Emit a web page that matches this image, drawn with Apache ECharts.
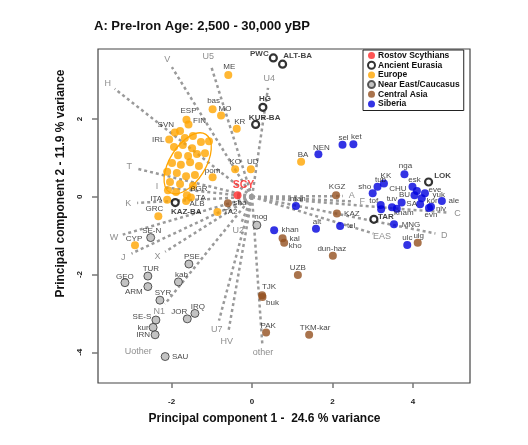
<!DOCTYPE html>
<html>
<head>
<meta charset="utf-8">
<script src="https://cdn.jsdelivr.net/npm/echarts@6/dist/echarts.min.js"></script>
<style>
  body { margin: 0; background: #fff; }
  #main { width: 528px; height: 445px; }
</style>
</head>
<body>
<div id="main"></div>
<script>
  // PCA scores
  var scyNames = ['SCY'];
  var scyX = [-0.36];
  var scyY = [0.04];

  var ancNames = ['PWC', 'ALT-BA', 'HG', 'KUR-BA', 'LOK', 'TAR', 'KAZ-BA'];
  var ancX = [0.53, 0.76, 0.27, 0.09, 4.39, 3.03, -1.91];
  var ancY = [3.57, 3.41, 2.30, 1.86, 0.38, -0.58, -0.15];

  var eurNames = ['ME', 'bas', 'MO', 'ESP', 'FIN', 'SVN', 'IRL', 'KR', 'BA', 'KO', 'UD', 'pom',
    'BGR', 'TA', 'ALB', 'ITA', 'GRC', 'TA2', 'CYP',
    '', '', '', '', '', '', '', '', '', '', '', '', '', '', '', '', '', '', '', '', '', '', '', '', ''];
  var eurX = [-0.59, -0.98, -0.77, -1.63, -1.58, -1.92, -2.06, -0.38, 1.22, -0.42, -0.03, -0.98,
    -1.62, -1.52, -1.64, -2.11, -2.33, -0.86, -2.91,
    -1.79, -1.67, -1.47, -1.94, -1.72, -1.49, -1.27, -1.07, -1.84, -1.59, -1.37, -1.17, -1.99,
    -1.77, -1.54, -1.32, -2.11, -1.87, -1.64, -1.42, -2.04, -1.79, -1.47, -2.09, -1.89];
  var eurY = [3.13, 2.25, 2.09, 1.98, 1.86, 1.65, 1.47, 1.75, 0.90, 0.71, 0.71, 0.50,
    0.04, -0.02, -0.11, -0.08, -0.50, -0.39, -1.25,
    1.69, 1.51, 1.56, 1.28, 1.33, 1.25, 1.41, 1.43, 1.07, 1.05, 1.10, 1.12, 0.87,
    0.82, 0.89, 0.79, 0.64, 0.61, 0.53, 0.56, 0.38, 0.33, 0.28, 0.17, 0.12];

  var neNames = ['nog', 'SE-N', 'PSE', 'TUR', 'GEO', 'kab', 'ARM', 'SYR', 'IRQ', 'JOR', 'SE-S', 'kur', 'IRN', 'SAU'];
  var neX = [0.12, -2.52, -1.57, -2.59, -3.16, -1.83, -2.59, -2.29, -1.42, -1.61, -2.39, -2.46, -2.41, -2.16];
  var neY = [-0.73, -1.05, -1.73, -2.04, -2.21, -2.19, -2.31, -2.66, -3.00, -3.14, -3.17, -3.36, -3.55, -4.11];

  var caNames = ['sha', 'KGZ', 'KAZ', 'kal', 'kho', 'dun-haz', 'uig', 'UZB', 'TJK', 'buk', 'PAK', 'TKM-kar'];
  var caX = [-0.60, 2.09, 2.11, 0.76, 0.80, 2.01, 4.12, 1.14, 0.25, 0.26, 0.35, 1.42];
  var caY = [-0.17, 0.04, -0.43, -1.07, -1.18, -1.52, -1.18, -2.01, -2.53, -2.58, -3.49, -3.55];

  var sibNames = ['sel', 'ket', 'NEN', 'nga', 'KK', 'tub', 'sho', 'esk', 'CHU', 'BU', 'eve', 'yuk', 'kor',
    'ale', 'niv', 'evn', 'SA', 'tof', '', 'tuv', 'kham', 'MNG', 'ulc', 'man', 'alt', 'tel', 'khan'];
  var sibX = [2.25, 2.52, 1.65, 3.79, 3.28, 3.12, 3.00, 3.99, 4.10, 4.04, 4.30, 4.22, 4.18,
    4.72, 4.45, 4.40, 3.72, 3.20, 3.21, 3.48, 3.60, 3.53, 3.86, 1.09, 1.59, 2.19, 0.55];
  var sibY = [1.34, 1.35, 1.09, 0.58, 0.34, 0.26, 0.09, 0.26, 0.15, 0.04, 0.09, -0.04, -0.19,
    -0.11, -0.26, -0.29, -0.15, -0.21, -0.32, -0.27, -0.31, -0.71, -1.24, -0.24, -0.82, -0.75, -0.86];

  // loading vectors (label positions)
  var loadNames = ['H', 'V', 'U5', 'U4', 'T', 'I', 'K', 'W', 'J', 'X', 'N1', 'Uother', 'U7', 'HV', 'U2',
    'other', 'A', 'F', 'EAS', 'C', 'D'];
  var loadX = [-3.59, -2.11, -1.09, 0.43, -3.05, -2.36, -3.08, -3.43, -3.20, -2.35, -2.31, -2.83, -0.88, -0.63, -0.34,
    0.27, 2.48, 2.74, 3.23, 5.11, 4.78];
  var loadY = [2.92, 3.53, 3.60, 3.03, 0.77, 0.26, -0.17, -1.04, -1.56, -1.54, -2.94, -3.97, -3.41, -3.72, -0.86,
    -4.00, 0.02, -0.13, -1.01, -0.43, -0.99];
  var labelOnly = ['Uother'];

  // Europe 95% ellipse
  var ellCenter = [-1.60, 0.86];
  var ellAxes = [0.85, 0.46];
  var ellAngle = 58;

  var xTicks = [-2, 0, 2, 4];
  var yTicks = [-4, -2, 0, 2];

  // label offsets in px (label centre minus point centre)
  var labelOffsets = {
    'SCY': [6, -10], 'PWC': [-14, -4], 'ALT-BA': [15, -8], 'HG': [2, -9], 'KUR-BA': [9, -7],
    'LOK': [14, -6], 'TAR': [12, -3], 'KAZ-BA': [11, 9],
    'ME': [1, -8], 'bas': [1, -8], 'MO': [4, -7], 'ESP': [2, -9], 'FIN': [11, -4], 'SVN': [-9, -8],
    'IRL': [-11, 0], 'KR': [3, -7], 'BA': [2, -7], 'KO': [0, -7], 'UD': [2, -7], 'pom': [0, -7],
    'BGR': [12, -6], 'TA': [10, 0], 'ALB': [11, 3], 'ITA': [-11, -1], 'GRC': [-4, -7], 'TA2': [13, 0],
    'CYP': [-1, -7],
    'nog': [4, -8], 'SE-N': [1, -7], 'PSE': [3, -7], 'TUR': [3, -7], 'GEO': [0, -6], 'kab': [3, -7],
    'ARM': [-14, 5], 'SYR': [3, -7], 'IRQ': [3, -7], 'JOR': [-8, -7], 'SE-S': [-14, -3], 'kur': [-10, 0],
    'IRN': [-12, 0], 'SAU': [15, 0],
    'sha': [12, -1], 'KGZ': [1, -8], 'KAZ': [15, 0], 'kal': [12, 0], 'kho': [11, 3], 'dun-haz': [-1, -7],
    'uig': [1, -7], 'UZB': [0, -7], 'TJK': [7, -8], 'buk': [10, 6], 'PAK': [2, -7], 'TKM-kar': [6, -7],
    'sel': [1, -7], 'ket': [3, -7], 'NEN': [3, -7], 'nga': [1, -8], 'KK': [2, -8], 'tub': [3, -7],
    'sho': [-8, -6], 'esk': [2, -7], 'CHU': [-19, -2], 'BU': [-10, 0], 'eve': [10, -3], 'yuk': [17, -4],
    'kor': [12, -3], 'ale': [12, 0], 'niv': [10, 2], 'evn': [2, 7], 'SA': [10, 1], 'tof': [-7, -4],
    'tuv': [0, -8], 'kham': [7, 4], 'MNG': [17, 0], 'ulc': [0, -7], 'man': [2, -7], 'alt': [1, -7],
    'tel': [11, 0], 'khan': [16, 0]
  };

  var FONT = 'Liberation Sans, Arial, sans-serif';

  function makeData(names, xs, ys) {
    var out = [];
    for (var i = 0; i < xs.length; i++) {
      var item = { value: [xs[i], ys[i]], name: names[i] };
      if (labelOffsets[names[i]]) item.label = { offset: labelOffsets[names[i]] };
      out.push(item);
    }
    return out;
  }

  function pointSeries(name, names, xs, ys, itemStyle, labelStyle, size) {
    return {
      name: name,
      type: 'scatter',
      symbol: 'circle',
      symbolSize: size || 8,
      z: 5,
      itemStyle: itemStyle,
      label: Object.assign({
        show: true,
        position: 'inside',
        formatter: '{b}',
        color: '#111',
        fontSize: 8,
        fontFamily: FONT
      }, labelStyle || {}),
      emphasis: { disabled: true },
      data: makeData(names, xs, ys)
    };
  }

  var myChart = echarts.init(document.getElementById('main'));

  var option = {
    animation: false,
    backgroundColor: '#fff',
    title: {
      text: 'A: Pre-Iron Age: 2,500 - 30,000 yBP',
      left: 94,
      top: 20,
      padding: 0,
      textStyle: { fontSize: 13, fontWeight: 'bold', color: '#111', fontFamily: FONT }
    },
    legend: {
      orient: 'vertical',
      left: 363,
      top: 50,
      padding: [1, 4, 2, 4],
      borderColor: '#222',
      borderWidth: 1,
      backgroundColor: '#fff',
      itemWidth: 7,
      itemHeight: 7,
      itemGap: 0.7,
      selectedMode: false,
      icon: 'circle',
      textStyle: { fontSize: 8.5, fontWeight: 'bold', color: '#111', fontFamily: FONT, lineHeight: 9, padding: [0, 0, 0, -2] },
      data: ['Rostov Scythians', 'Ancient Eurasia', 'Europe', 'Near East/Caucasus', 'Central Asia', 'Siberia']
    },
    grid: {
      left: 98, right: 58, top: 49, bottom: 62,
      show: true, borderColor: '#444', borderWidth: 1.2
    },
    xAxis: {
      type: 'value',
      min: -3.83, max: 5.42,
      axisLine: { show: false, onZero: false },
      splitLine: { show: false },
      axisTick: { show: true, length: 5, customValues: xTicks, lineStyle: { color: '#777', width: 1.5 } },
      axisLabel: { customValues: xTicks, margin: 15, fontSize: 8, fontWeight: 'bold', color: '#222', fontFamily: FONT }
    },
    yAxis: {
      type: 'value',
      min: -4.79, max: 3.80,
      axisLine: { show: false, onZero: false },
      splitLine: { show: false },
      axisTick: { show: true, length: 6, customValues: yTicks, lineStyle: { color: '#777', width: 1.5 } },
      axisLabel: { customValues: yTicks, margin: 14, rotate: 90, fontSize: 8, fontWeight: 'bold', color: '#222', fontFamily: FONT }
    },
    graphic: [
      {
        type: 'text', x: 264.5, y: 419,
        style: { text: 'Principal component 1 -  24.6 % variance', font: 'bold 12px ' + FONT, fill: '#111', textAlign: 'center', textVerticalAlign: 'middle' }
      },
      {
        type: 'text', x: 61, y: 183.5, rotation: Math.PI / 2,
        style: { text: 'Principal component 2 - 11.9 % variance', font: 'bold 12px ' + FONT, fill: '#111', textAlign: 'center', textVerticalAlign: 'middle' }
      }
    ],
    series: [
      {
        type: 'custom',
        z: 1,
        silent: true,
        data: loadX.map(function (x, i) { return [x, loadY[i]]; }),
        renderItem: function (params, api) {
          var o = api.coord([0, 0]);
          var e = api.coord([api.value(0), api.value(1)]);
          var dx = e[0] - o[0], dy = e[1] - o[1];
          var len = Math.sqrt(dx * dx + dy * dy);
          var k = Math.max(0, (len - 9) / len);
          var name = loadNames[params.dataIndex];
          var children = [{
            type: 'text',
            x: e[0], y: e[1],
            style: { text: name, fill: '#8f8f8f', font: '9px ' + FONT, textAlign: 'center', textVerticalAlign: 'middle' }
          }];
          if (labelOnly.indexOf(name) < 0) {
            children.unshift({
              type: 'line',
              shape: { x1: o[0], y1: o[1], x2: o[0] + dx * k, y2: o[1] + dy * k },
              style: { stroke: '#9a9a9a', lineWidth: 2.5, lineDash: [3, 3] }
            });
          }
          return { type: 'group', children: children };
        }
      },
      {
        type: 'custom',
        z: 6,
        silent: true,
        data: [ellCenter],
        renderItem: function (params, api) {
          var c = api.coord(ellCenter);
          var rx = api.size([ellAxes[0], 0])[0];
          var ry = api.size([0, ellAxes[1]])[1];
          return {
            type: 'ellipse',
            x: c[0], y: c[1],
            rotation: ellAngle * Math.PI / 180,
            shape: { cx: 0, cy: 0, rx: rx, ry: ry },
            style: { fill: 'none', stroke: '#FFA500', lineWidth: 1.3 }
          };
        }
      },
      pointSeries('Europe', eurNames, eurX, eurY, { color: '#FFA500' }),
      pointSeries('Near East/Caucasus', neNames, neX, neY, { color: '#b4b4b4', borderColor: '#333', borderWidth: 1 }),
      pointSeries('Central Asia', caNames, caX, caY, { color: '#93501f' }),
      pointSeries('Siberia', sibNames, sibX, sibY, { color: '#0000dd' }),
      pointSeries('Ancient Eurasia', ancNames, ancX, ancY, { color: '#fff', borderColor: '#000', borderWidth: 2.2 },
        { fontWeight: 'bold' }, 7),
      pointSeries('Rostov Scythians', scyNames, scyX, scyY, { color: '#ff2a2a' },
        { fontWeight: 'bold', fontSize: 10.5, color: '#ff2020' })
    ]
  };

  myChart.setOption(option);
</script>
</body>
</html>
